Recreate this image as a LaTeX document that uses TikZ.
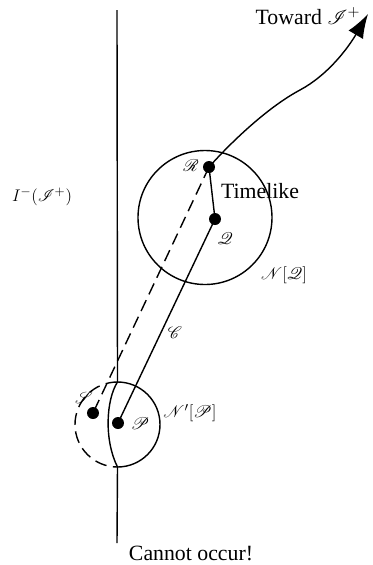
\documentclass[tikz,border=0pt]{standalone}
\usepackage{fontspec}
\setmainfont{Liberation Serif}
\usepackage{amsmath,amssymb}
\usepackage{mathrsfs}
\usepackage{tikz}
\usetikzlibrary{arrows.meta}
\tikzset{
  dot/.style={circle, fill=black, inner sep=0pt, minimum size=3mm},
  lbl/.style={font=\fontsize{15.5}{18}\selectfont, inner sep=1pt},
  sym/.style={font=\fontsize{13}{16}\selectfont, inner sep=1pt},
  curve/.style={line width=1pt},
  dashcurve/.style={line width=1pt, dash pattern=on 3mm off 1.6mm}
}

\begin{document}
\begin{tikzpicture}[x=0.25mm, y=-0.25mm]
    \useasboundingbox (0,0) rectangle (372,565);

    % Boundary of the past set (vertical line)
    \coordinate (top) at (117,10);
    \coordinate (bot) at (117,543);
    \coordinate (ntop) at (117.5,382);
    \coordinate (nbot) at (117.5,467);
    \draw[curve] (top) -- (ntop);
    \draw[curve] (ntop) .. controls (106,400) and (104,440) .. (nbot);
    \draw[curve] (nbot) -- (bot);

    % Neighbourhoods
    \draw[curve] (205,217.5) circle[radius=67];
    \draw[curve] (ntop) arc[start angle=-90, end angle=90, radius=42.5];
    \draw[dashcurve] (ntop) arc[start angle=270, end angle=90, radius=42.5];

    % Points
    \node[dot] (R) at (209,167) {};
    \node[dot] (Q) at (215,219) {};
    \node[dot] (P) at (118,423) {};
    \node[dot] (S) at (93,413) {};

    % Curves between the points
    \draw[curve] (R.center) -- (Q.center);
    \draw[curve] (Q.center) -- (P.center);
    \draw[dashcurve] (R.center) -- (S.center);

    % Curve toward scri+
    \coordinate (tip) at (368,14);
    \draw[curve, -{Latex[length=6mm, width=4.2mm]}] (R.center)
        .. controls (235,138) and (270,106) .. (300,90)
        .. controls (328,75) and (348,48) .. (tip);

    % Labels
    \node[sym] (Rl) at (191,166) {$\mathscr{R}$};
    \node[sym] (Ql) at (225,239) {$\mathscr{Q}$};
    \node[sym] (Pl) at (140,424) {$\mathscr{P}$};
    \node[sym] (Sl) at (84,398) {$\mathscr{S}$};
    \node[sym] (Cl) at (175,333) {$\mathscr{C}$};
    \node[lbl] (tl) at (260,191) {Timelike};
    \node[sym] (NQ) at (284,275) {$\mathscr{N}[\mathscr{Q}]$};
    \node[sym] (NP) at (190,413) {$\mathscr{N}'[\mathscr{P}]$};
    \node[sym] (past) at (42,197) {$I^{-}(\mathscr{I}^{+})$};
    \node[lbl] (toward) at (308,16) {Toward $\mathscr{I}^{+}$};
    \node[lbl] (never) at (191,553) {Cannot occur!};

\end{tikzpicture}
\end{document}
